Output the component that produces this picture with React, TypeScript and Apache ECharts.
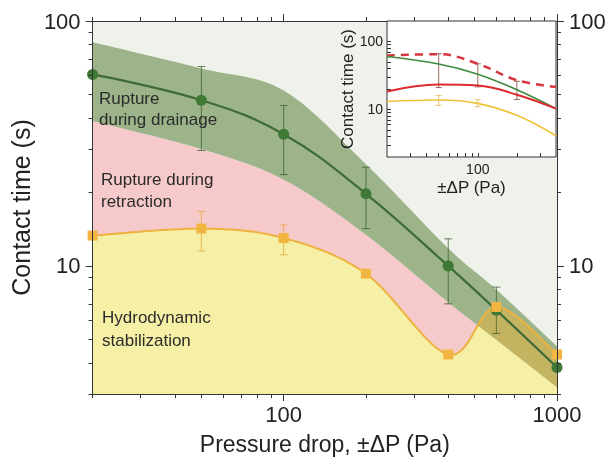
import React, { useEffect, useRef } from "react";
import * as echarts from "echarts";

// ---------- Main chart data (x: pressure drop in Pa, y: contact time in s) ----------
const pressure = [20, 50, 100, 200, 400, 600, 1000];
const drainageTime = [60.5, 47.5, 34.5, 19.7, 10.0, 6.6, 3.85];
const stabilizationTime = [13.3, 14.2, 13.0, 9.3, 4.35, 6.8, 4.35];
const bandUpper = [82, 64, 52, 26, 11.8, 8.0, 4.7];
const bandLower = [39, 30, 22.5, 13.4, 7.1, 5.0, 3.2];

const drainageErrP = [50, 100, 200, 400, 600];
const drainageErrLow = [29.6, 23.6, 14.2, 7.0, 5.3];
const drainageErrHigh = [65.2, 45.2, 25.3, 12.9, 8.2];
const stabErrP = [50, 100];
const stabErrLow = [11.5, 11.1];
const stabErrHigh = [16.7, 14.7];

const xMajor = [100, 1000];
const xMinor = [20, 30, 40, 50, 60, 70, 80, 90, 200, 300, 400, 500, 600, 700, 800, 900];
const yMajor = [10, 100];
const yMinor = [3, 4, 5, 6, 7, 8, 9, 20, 30, 40, 50, 60, 70, 80, 90];

// ---------- Inset data ----------
const insetPressure = [20, 50, 100, 200, 400];
const insetDrainage = [60, 46.5, 33, 19.5, 10.3];
const insetDashed = [62, 65, 47, 27, 21.5];
const insetRetraction = [18.4, 23.2, 22.5, 16.5, 10.3];
const insetStab = [13.1, 13.8, 12.3, 8.2, 4.1];
const insetRedErrP = [50, 100, 200];
const insetRedErrLow = [21, 21.5, 14];
const insetRedErrHigh = [66, 47, 26];
const insetYelErrP = [50, 100];
const insetYelErrLow = [11.5, 11];
const insetYelErrHigh = [16, 14];
const insetXTicks = [30, 40, 50, 60, 70, 80, 90, 100, 200, 300];
const insetXLabels = [100];
const insetYTicks = [3, 4, 5, 6, 7, 8, 9, 10, 20, 30, 40, 50, 60, 70, 80, 90, 100];
const insetYLabels = [10, 100];

const FONT = "Liberation Sans, Arial, sans-serif";
const AXIS_COLOR = "#333";
const BG = "#eef2ea";
const PINK = "#f6c9cb";
const YELLOW = "#f5f0a6";
const BAND = "#9db48a";
const OLIVE = "#c4b360";
const YELLOW_LINE = "#eeb23e";

const zip = (xs: number[], ys: number[]) => xs.map((x, i) => [x, ys[i]]);

// Catmull-Rom smoothing in pixel space (points already mapped by the axis scales)
const smoothPts = (pts: number[][], seg = 24) => {
  const out: number[][] = [];
  for (let i = 0; i < pts.length - 1; i++) {
    const p0 = pts[i - 1] || pts[i];
    const p1 = pts[i];
    const p2 = pts[i + 1];
    const p3 = pts[i + 2] || pts[i + 1];
    const c1 = [p1[0] + (p2[0] - p0[0]) / 6, p1[1] + (p2[1] - p0[1]) / 6];
    const c2 = [p2[0] - (p3[0] - p1[0]) / 6, p2[1] - (p3[1] - p1[1]) / 6];
    for (let k = i === 0 ? 0 : 1; k <= seg; k++) {
      const t = k / seg;
      const a = (1 - t) * (1 - t) * (1 - t);
      const b = 3 * (1 - t) * (1 - t) * t;
      const c = 3 * (1 - t) * t * t;
      const d = t * t * t;
      out.push([
        a * p1[0] + b * c1[0] + c * c2[0] + d * p2[0],
        a * p1[1] + b * c1[1] + c * c2[1] + d * p2[1],
      ]);
    }
  }
  return out;
};

const interpY = (poly: number[][], x: number) => {
  if (x <= poly[0][0]) return poly[0][1];
  for (let i = 1; i < poly.length; i++) {
    if (poly[i][0] >= x) {
      const a = poly[i - 1];
      const b = poly[i];
      const t = (x - a[0]) / (b[0] - a[0] || 1);
      return a[1] + t * (b[1] - a[1]);
    }
  }
  return poly[poly.length - 1][1];
};

const errRender = (color: string, cap: number, width: number) => (params: any, api: any) => {
  const x = api.value(0);
  const lo = api.coord([x, api.value(1)]);
  const hi = api.coord([x, api.value(2)]);
  const st = { stroke: color, lineWidth: width };
  return {
    type: "group",
    children: [
      { type: "line", shape: { x1: lo[0], y1: lo[1], x2: hi[0], y2: hi[1] }, style: st },
      { type: "line", shape: { x1: lo[0] - cap, y1: lo[1], x2: lo[0] + cap, y2: lo[1] }, style: st },
      { type: "line", shape: { x1: hi[0] - cap, y1: hi[1], x2: hi[0] + cap, y2: hi[1] }, style: st },
    ],
  };
};

export default function App() {
  const ref = useRef<HTMLDivElement>(null);

  useEffect(() => {
    if (!ref.current) return;
    const chart = echarts.init(ref.current, undefined, { renderer: "svg" });

    const fmt = (v: number) => String(Math.round(v));
    const line = { show: true, lineStyle: { color: AXIS_COLOR, width: 1 } };

    const mainX = (pos: string, ticks: number[], len: number, labels: number[] | null, showLine: boolean, extra: any = {}) => ({
      type: "log",
      logBase: 10,
      gridIndex: 0,
      min: 20,
      max: 1000,
      position: pos,
      z: 3,
      axisLine: { ...line, show: showLine },
      axisTick: { show: true, customValues: ticks, length: len, inside: false, lineStyle: { color: AXIS_COLOR, width: 1 } },
      axisLabel: labels
        ? { show: true, customValues: labels, formatter: fmt, fontSize: 22, color: "#222", fontFamily: FONT, margin: 9 }
        : { show: false },
      splitLine: { show: false },
      minorTick: { show: false },
      ...extra,
    });
    const mainY = (pos: string, ticks: number[], len: number, labels: number[] | null, showLine: boolean, extra: any = {}) => ({
      type: "log",
      logBase: 10,
      gridIndex: 0,
      min: 3,
      max: 100,
      position: pos,
      z: 3,
      axisLine: { ...line, show: showLine },
      axisTick: { show: true, customValues: ticks, length: len, inside: false, lineStyle: { color: AXIS_COLOR, width: 1 } },
      axisLabel: labels
        ? { show: true, customValues: labels, formatter: fmt, fontSize: 22, color: "#222", fontFamily: FONT, margin: 12 }
        : { show: false },
      splitLine: { show: false },
      minorTick: { show: false },
      ...extra,
    });

    // Filled regions: pink (retraction), yellow (stabilization), green band (drainage), and band/yellow overlap
    const regionsRender = (params: any, api: any) => {
      const up = smoothPts(zip(pressure, bandUpper).map((p) => api.coord(p)));
      const lo = smoothPts(zip(pressure, bandLower).map((p) => api.coord(p)));
      const ye = smoothPts(zip(pressure, stabilizationTime).map((p) => api.coord(p)));
      const yB = api.coord([pressure[0], 3])[1];
      const xL = lo[0][0];
      const xR = lo[lo.length - 1][0];
      const pink = [...lo, [xR, yB], [xL, yB]];
      const yellow = [...ye, [xR, yB], [xL, yB]];
      const band = [...up, ...lo.slice().reverse()];
      const oTop: number[][] = [];
      const oBot: number[][] = [];
      const xs: number[] = [];
      for (let x = xL; x < xR; x += 1) xs.push(x);
      xs.push(xR);
      xs.forEach((x) => {
        const yy = interpY(ye, x);
        const yl = interpY(lo, x);
        const yu = interpY(up, x);
        if (yy < yl) {
          oTop.push([x, Math.max(yy, yu)]);
          oBot.push([x, yl]);
        }
      });
      const children: any[] = [
        { type: "polygon", shape: { points: pink }, style: { fill: PINK } },
        { type: "polygon", shape: { points: yellow }, style: { fill: YELLOW } },
        { type: "polygon", shape: { points: band }, style: { fill: BAND } },
      ];
      if (oTop.length > 1) {
        children.push({ type: "polygon", shape: { points: [...oTop, ...oBot.reverse()] }, style: { fill: OLIVE } });
      }
      return { type: "group", children };
    };

    const yellowLineRender = (params: any, api: any) => {
      const ye = smoothPts(zip(pressure, stabilizationTime).map((p) => api.coord(p)));
      return { type: "polyline", shape: { points: ye }, style: { stroke: YELLOW_LINE, lineWidth: 2, fill: "none" } };
    };

    const option: any = {
      animation: false,
      grid: [
        { left: 90, right: 52, top: 21, bottom: 63, show: true, backgroundColor: BG, borderWidth: 0, z: 0 },
        { left: 387, right: 53, top: 21, bottom: 303, show: true, backgroundColor: "#ffffff", borderColor: AXIS_COLOR, borderWidth: 1, z: 4 },
      ],
      xAxis: [
        mainX("bottom", xMajor, 7, xMajor, true, {
          name: "Pressure drop, \u00b1\u0394P (Pa)",
          nameLocation: "middle",
          nameGap: 38,
          nameTextStyle: { fontSize: 23, color: "#222", fontFamily: FONT },
        }),
        mainX("bottom", xMinor, 4, null, false),
        mainX("top", xMajor, 7, null, true),
        mainX("top", xMinor, 4, null, false),
        {
          type: "log",
          logBase: 10,
          gridIndex: 1,
          min: 20,
          max: 400,
          position: "bottom",
          z: 5,
          axisLine: { show: false },
          axisTick: { show: true, inside: true, customValues: insetXTicks, length: 4, lineStyle: { color: AXIS_COLOR, width: 1 } },
          axisLabel: { show: true, customValues: insetXLabels, formatter: fmt, fontSize: 14, color: "#222", fontFamily: FONT, margin: 5 },
          splitLine: { show: false },
          name: "\u00b1\u0394P (Pa)",
          nameLocation: "middle",
          nameGap: 22,
          nameTextStyle: { fontSize: 17, color: "#222", fontFamily: FONT },
        },
      ],
      yAxis: [
        mainY("left", yMajor, 7, yMajor, true, {
          name: "Contact time (s)",
          nameLocation: "middle",
          nameGap: 46,
          nameTextStyle: { fontSize: 25, color: "#222", fontFamily: FONT },
        }),
        mainY("left", yMinor, 4, null, false),
        mainY("right", yMajor, 7, yMajor, true),
        mainY("right", yMinor, 4, null, false),
        {
          type: "log",
          logBase: 10,
          gridIndex: 1,
          min: 2,
          max: 200,
          position: "left",
          z: 5,
          axisLine: { show: false },
          axisTick: { show: true, inside: true, customValues: insetYTicks, length: 4, lineStyle: { color: AXIS_COLOR, width: 1 } },
          axisLabel: { show: true, customValues: insetYLabels, formatter: fmt, fontSize: 14, color: "#222", fontFamily: FONT, margin: 4 },
          splitLine: { show: false },
          name: "Contact time (s)",
          nameLocation: "middle",
          nameGap: 20,
          nameTextStyle: { fontSize: 17, color: "#222", fontFamily: FONT },
        },
      ],
      series: [
        {
          type: "custom",
          xAxisIndex: 0,
          yAxisIndex: 0,
          data: [[pressure[0], bandLower[0]]],
          encode: { x: 0, y: 1 },
          renderItem: regionsRender,
          clip: true,
          z: 1,
        },
        {
          type: "custom",
          xAxisIndex: 0,
          yAxisIndex: 0,
          data: drainageErrP.map((p, i) => [p, drainageErrLow[i], drainageErrHigh[i]]),
          encode: { x: 0, y: [1, 2] },
          renderItem: errRender("rgba(55,95,45,0.75)", 4, 1),
          z: 2,
        },
        {
          type: "custom",
          xAxisIndex: 0,
          yAxisIndex: 0,
          data: stabErrP.map((p, i) => [p, stabErrLow[i], stabErrHigh[i]]),
          encode: { x: 0, y: [1, 2] },
          renderItem: errRender("rgba(230,170,60,0.8)", 4, 1),
          z: 2,
        },
        {
          type: "line",
          xAxisIndex: 0,
          yAxisIndex: 0,
          data: zip(pressure, drainageTime),
          smooth: 0.4,
          symbol: "circle",
          symbolSize: 11,
          itemStyle: { color: "#3e7a36" },
          lineStyle: { color: "#3f6b37", width: 2.2 },
          z: 2,
        },
        {
          type: "custom",
          xAxisIndex: 0,
          yAxisIndex: 0,
          data: [[pressure[0], stabilizationTime[0]]],
          encode: { x: 0, y: 1 },
          renderItem: yellowLineRender,
          z: 2,
        },
        {
          type: "line",
          xAxisIndex: 0,
          yAxisIndex: 0,
          data: zip(pressure, stabilizationTime),
          symbol: "rect",
          symbolSize: 10,
          itemStyle: { color: "#f3b541" },
          lineStyle: { width: 0, opacity: 0 },
          z: 2,
        },
        // ---- inset ----
        {
          type: "custom",
          xAxisIndex: 4,
          yAxisIndex: 4,
          data: insetRedErrP.map((p, i) => [p, insetRedErrLow[i], insetRedErrHigh[i]]),
          encode: { x: 0, y: [1, 2] },
          renderItem: errRender("rgba(120,60,40,0.75)", 3, 1),
          z: 6,
        },
        {
          type: "custom",
          xAxisIndex: 4,
          yAxisIndex: 4,
          data: insetYelErrP.map((p, i) => [p, insetYelErrLow[i], insetYelErrHigh[i]]),
          encode: { x: 0, y: [1, 2] },
          renderItem: errRender("rgba(230,180,80,0.8)", 3, 1),
          z: 6,
        },
        {
          type: "line",
          xAxisIndex: 4,
          yAxisIndex: 4,
          data: zip(insetPressure, insetDashed),
          smooth: 0.4,
          symbol: "none",
          lineStyle: { color: "#d6363f", width: 2.5, type: [8, 6] },
          z: 6,
        },
        {
          type: "line",
          xAxisIndex: 4,
          yAxisIndex: 4,
          data: zip(insetPressure, insetDrainage),
          smooth: 0.4,
          symbol: "none",
          lineStyle: { color: "#3f8a3f", width: 1.6 },
          z: 6,
        },
        {
          type: "line",
          xAxisIndex: 4,
          yAxisIndex: 4,
          data: zip(insetPressure, insetRetraction),
          smooth: 0.4,
          symbol: "none",
          lineStyle: { color: "#dc2a2e", width: 2 },
          z: 6,
        },
        {
          type: "line",
          xAxisIndex: 4,
          yAxisIndex: 4,
          data: zip(insetPressure, insetStab),
          smooth: 0.4,
          symbol: "none",
          lineStyle: { color: "#f1c338", width: 1.6 },
          z: 6,
        },
      ],
      graphic: [
        {
          type: "text",
          left: 99,
          top: 88,
          z: 20,
          style: { text: "Rupture\nduring drainage", fontSize: 17, lineHeight: 21, fill: "#2b2b2b", fontFamily: FONT },
        },
        {
          type: "text",
          left: 101,
          top: 168,
          z: 20,
          style: { text: "Rupture during\nretraction", fontSize: 17, lineHeight: 22, fill: "#2b2b2b", fontFamily: FONT },
        },
        {
          type: "text",
          left: 102,
          top: 306,
          z: 20,
          style: { text: "Hydrodynamic\nstabilization", fontSize: 17, lineHeight: 23, fill: "#2b2b2b", fontFamily: FONT },
        },
      ],
    };

    chart.setOption(option);
    return () => chart.dispose();
  }, []);

  return <div ref={ref} style={{ position: "fixed", left: 0, top: 0, width: 609, height: 460 }} />;
}
